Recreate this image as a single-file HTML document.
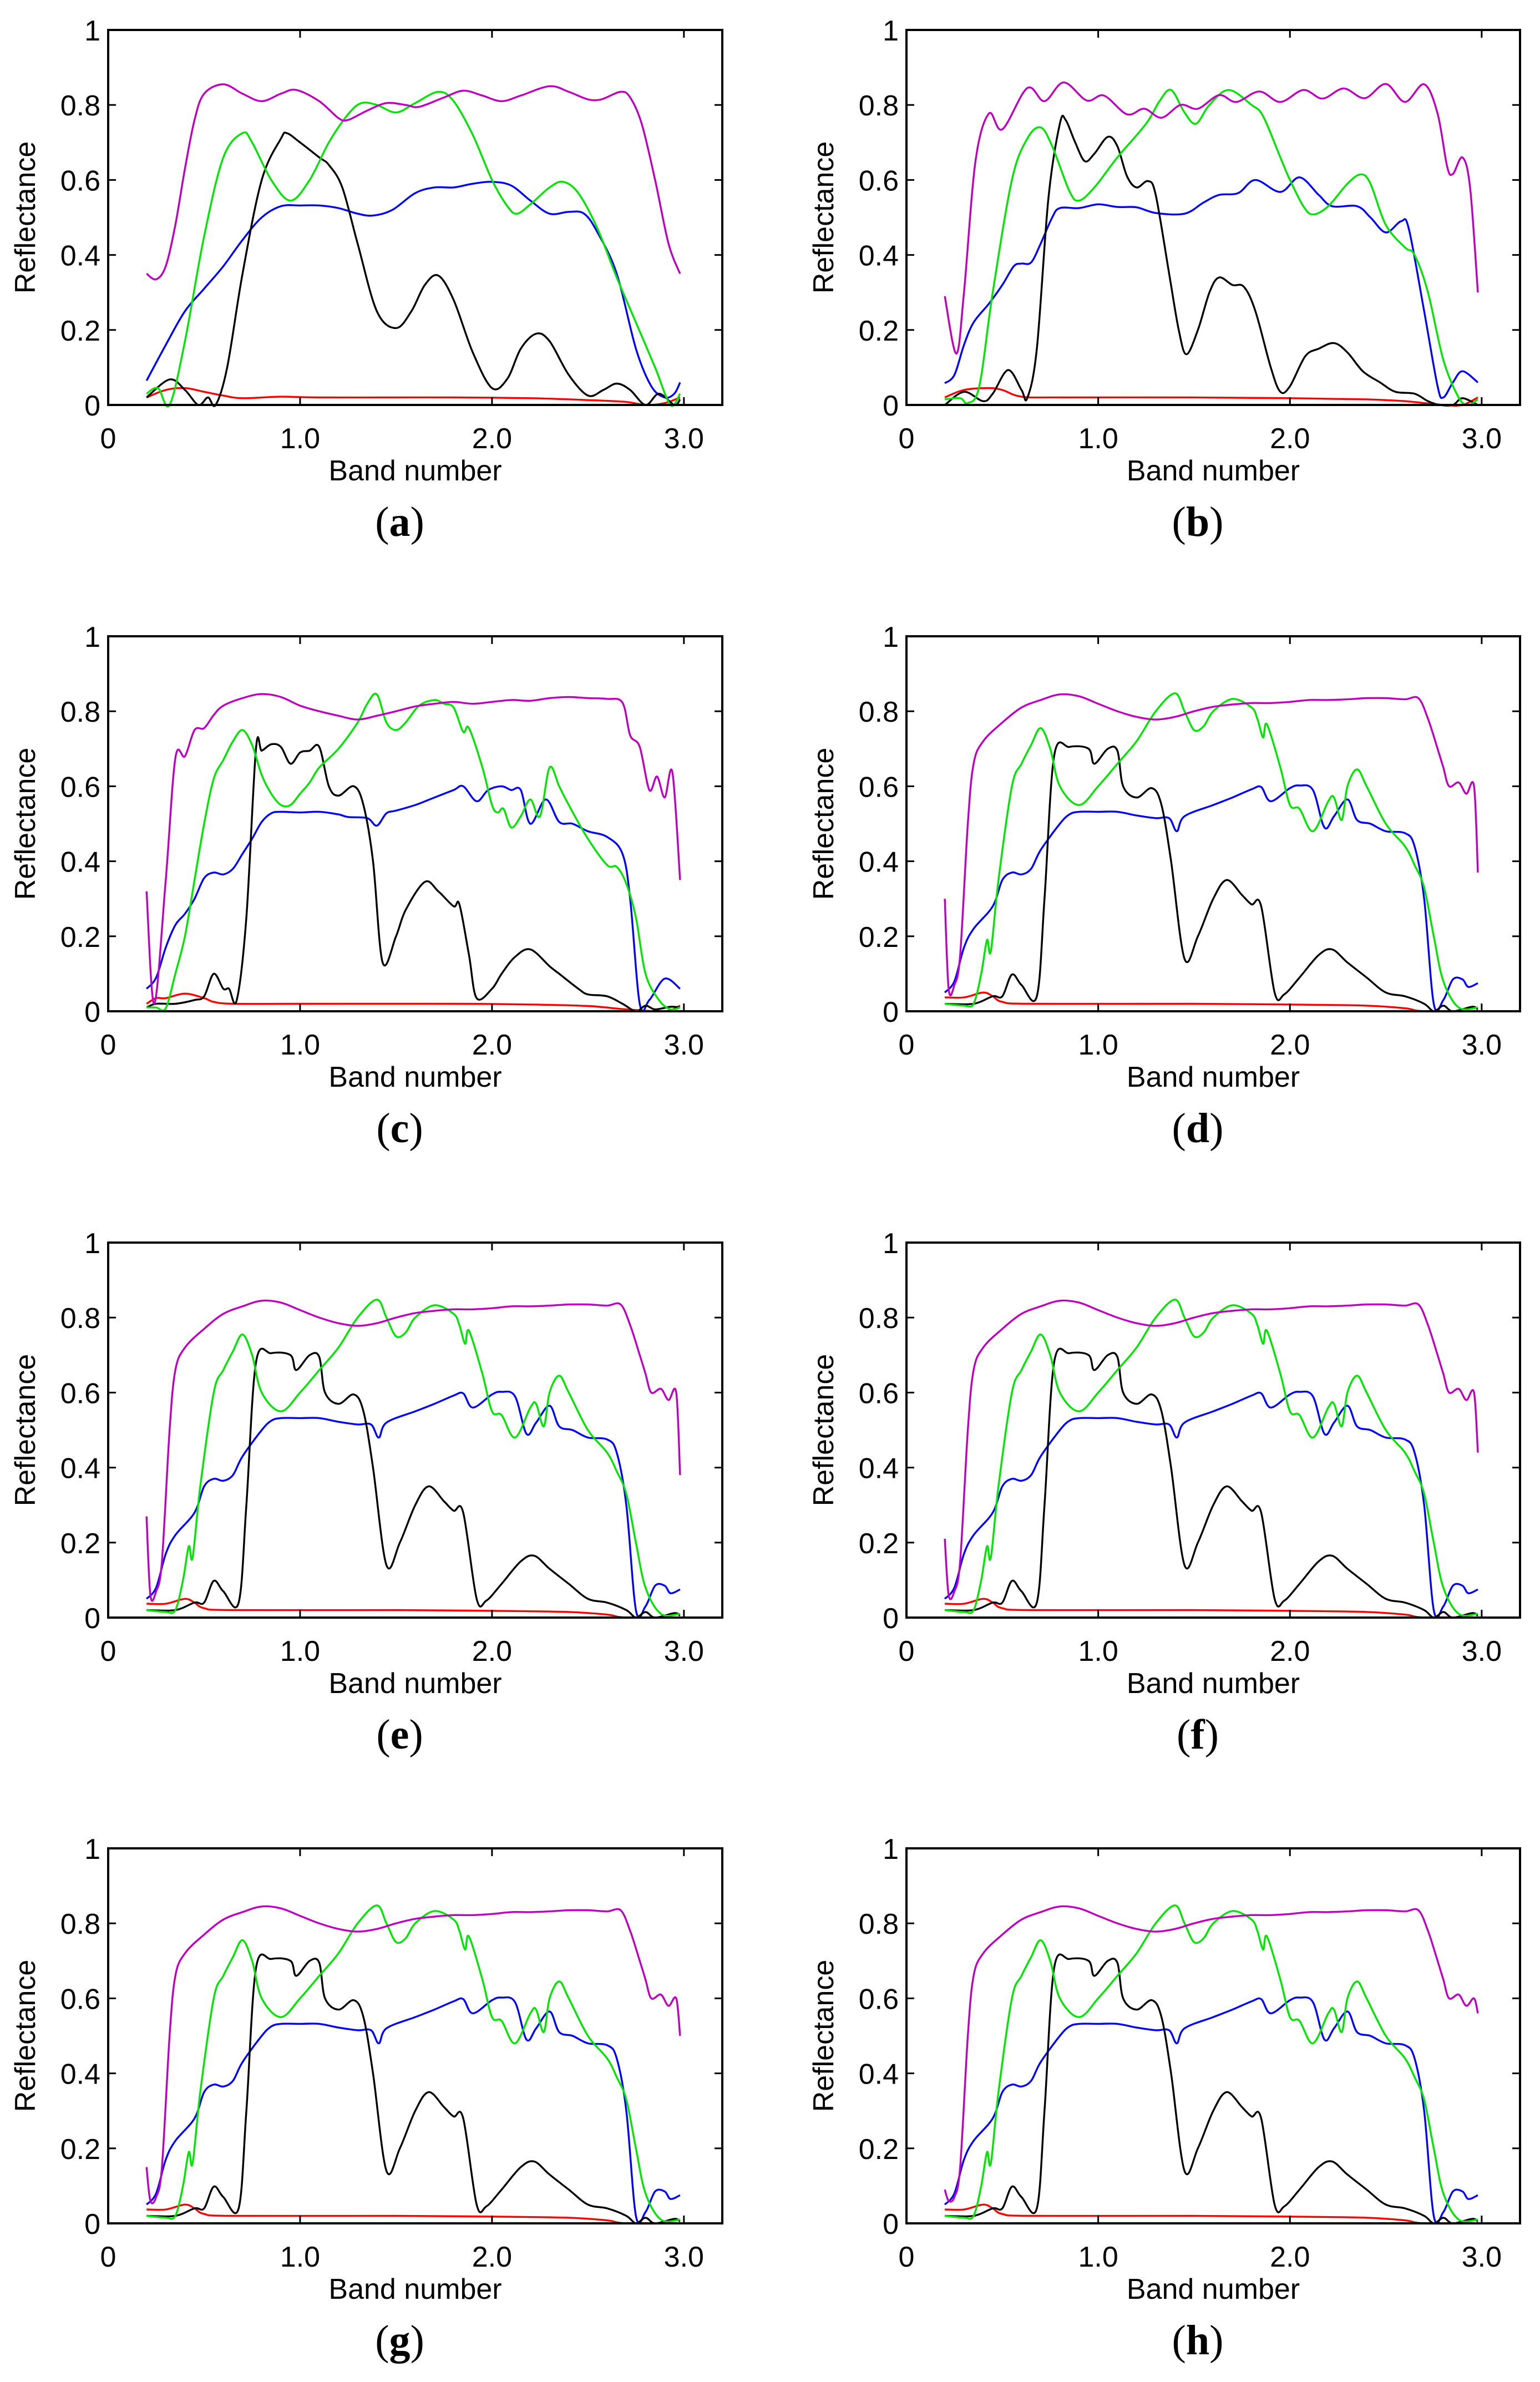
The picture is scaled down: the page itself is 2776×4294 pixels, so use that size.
<!DOCTYPE html>
<html><head><meta charset="utf-8"><style>
html,body{margin:0;padding:0;background:#fff;}
svg{display:block;}
text{font-family:"Liberation Sans",sans-serif;}
</style></head><body>
<svg id="fig" width="2776" height="4294" viewBox="0 0 2776 4294" xmlns="http://www.w3.org/2000/svg"></svg>
<script>
// ---- data: panel (a) ----
const aMagX=[0.2,0.25,0.3,0.35,0.4,0.45,0.5,0.6,0.7,0.8,0.9,0.98,1.1,1.2,1.25,1.35,1.45,1.55,1.62,1.75,1.85,1.95,2.05,2.15,2.3,2.4,2.5,2.57,2.67,2.72,2.78,2.85,2.92,2.98];
const aMagY=[0.35,0.335,0.37,0.48,0.63,0.76,0.83,0.855,0.83,0.81,0.83,0.84,0.81,0.765,0.76,0.785,0.805,0.8,0.795,0.82,0.838,0.825,0.81,0.825,0.85,0.835,0.815,0.815,0.835,0.82,0.75,0.6,0.43,0.35];
const aGrnX=[0.2,0.26,0.32,0.4,0.5,0.6,0.7,0.75,0.85,0.95,1.05,1.15,1.25,1.32,1.4,1.5,1.6,1.72,1.8,1.9,2.0,2.08,2.13,2.2,2.3,2.37,2.45,2.55,2.65,2.75,2.85,2.93,2.98];
const aGrnY=[0.03,0.045,0.0,0.17,0.45,0.66,0.725,0.7,0.6,0.545,0.6,0.7,0.775,0.805,0.8,0.78,0.805,0.835,0.81,0.72,0.6,0.53,0.51,0.535,0.58,0.595,0.565,0.47,0.34,0.22,0.1,0.0,0.03];
const aBlkX=[0.2,0.32,0.4,0.47,0.52,0.56,0.62,0.7,0.8,0.9,0.93,1.0,1.1,1.15,1.22,1.3,1.4,1.5,1.58,1.65,1.72,1.8,1.9,2.0,2.08,2.15,2.23,2.3,2.4,2.5,2.58,2.65,2.72,2.8,2.87,2.95,2.98];
const aBlkY=[0.02,0.068,0.04,0.0,0.02,0.0,0.1,0.35,0.6,0.71,0.725,0.7,0.66,0.64,0.58,0.43,0.25,0.205,0.25,0.32,0.345,0.28,0.14,0.045,0.07,0.15,0.19,0.17,0.08,0.025,0.04,0.057,0.04,0.0,0.03,0.0,0.015];
const aBluX=[0.2,0.3,0.4,0.5,0.6,0.7,0.8,0.9,1.0,1.1,1.2,1.3,1.38,1.48,1.6,1.7,1.8,1.9,2.0,2.1,2.2,2.3,2.4,2.48,2.55,2.65,2.75,2.83,2.9,2.95,2.98];
const aBluY=[0.065,0.16,0.25,0.31,0.37,0.44,0.5,0.53,0.532,0.532,0.525,0.51,0.505,0.52,0.565,0.58,0.58,0.59,0.595,0.585,0.545,0.51,0.515,0.51,0.46,0.35,0.15,0.05,0.02,0.03,0.06];
const aRedX=[0.2,0.3,0.4,0.5,0.6,0.7,0.9,1.1,1.5,1.8,2.2,2.5,2.7,2.8,2.9,2.98];
const aRedY=[0.02,0.04,0.045,0.035,0.025,0.018,0.022,0.02,0.02,0.02,0.018,0.013,0.008,0.0,0.005,0.02];
// ---- data: panel (b) ----
const bMagX=[0.2,0.26,0.3,0.36,0.43,0.5,0.63,0.72,0.82,0.94,1.03,1.15,1.24,1.33,1.43,1.52,1.63,1.72,1.84,1.95,2.07,2.17,2.28,2.39,2.5,2.6,2.7,2.77,2.82,2.85,2.9,2.94,2.98];
const bMagY=[0.29,0.137,0.3,0.65,0.777,0.735,0.845,0.81,0.86,0.812,0.825,0.775,0.79,0.766,0.8,0.79,0.826,0.808,0.836,0.808,0.84,0.817,0.844,0.818,0.856,0.808,0.855,0.777,0.635,0.616,0.66,0.578,0.3];
const bGrnX=[0.2,0.28,0.32,0.38,0.45,0.55,0.63,0.7,0.76,0.85,0.9,0.98,1.1,1.25,1.32,1.38,1.45,1.51,1.58,1.68,1.8,1.86,1.95,2.0,2.07,2.12,2.2,2.3,2.37,2.42,2.5,2.6,2.65,2.72,2.8,2.88,2.93,2.98];
const bGrnY=[0.015,0.018,0.005,0.05,0.3,0.6,0.71,0.74,0.69,0.57,0.545,0.58,0.66,0.75,0.81,0.84,0.78,0.75,0.8,0.84,0.8,0.77,0.66,0.6,0.53,0.508,0.53,0.59,0.615,0.59,0.48,0.42,0.4,0.3,0.12,0.02,0.0,0.015];
const bBlkX=[0.2,0.3,0.4,0.45,0.53,0.6,0.63,0.68,0.74,0.8,0.83,0.88,0.93,0.98,1.05,1.1,1.15,1.2,1.26,1.3,1.37,1.42,1.46,1.52,1.58,1.63,1.7,1.76,1.82,1.9,1.95,2.0,2.08,2.15,2.23,2.3,2.38,2.47,2.55,2.65,2.72,2.78,2.85,2.9,2.98];
const bBlkY=[0.0,0.035,0.01,0.03,0.093,0.04,0.018,0.15,0.55,0.75,0.76,0.7,0.65,0.67,0.715,0.69,0.61,0.58,0.597,0.56,0.35,0.2,0.135,0.2,0.3,0.34,0.32,0.315,0.25,0.1,0.035,0.05,0.13,0.15,0.165,0.14,0.09,0.06,0.035,0.03,0.01,0.0,0.0,0.018,0.0];
const bBluX=[0.2,0.25,0.3,0.35,0.43,0.5,0.56,0.6,0.65,0.7,0.76,0.8,0.9,1.0,1.1,1.2,1.3,1.45,1.55,1.63,1.73,1.82,1.95,2.05,2.15,2.22,2.35,2.42,2.5,2.58,2.62,2.7,2.77,2.8,2.85,2.9,2.98];
const bBluY=[0.058,0.08,0.16,0.22,0.27,0.32,0.37,0.377,0.38,0.43,0.5,0.525,0.525,0.535,0.528,0.527,0.512,0.51,0.54,0.56,0.565,0.6,0.568,0.607,0.56,0.53,0.53,0.5,0.46,0.49,0.47,0.25,0.05,0.02,0.06,0.09,0.06];
const bRedX=[0.2,0.3,0.43,0.5,0.6,0.8,1.5,2.0,2.4,2.6,2.8,2.9,2.98];
const bRedY=[0.02,0.04,0.045,0.04,0.022,0.02,0.02,0.018,0.015,0.01,0.0,0.0,0.02];
// ---- data: panel (c) ----
const cMagX=[0.2,0.24,0.3,0.35,0.4,0.45,0.5,0.55,0.6,0.7,0.8,0.9,1.0,1.1,1.2,1.3,1.4,1.5,1.6,1.7,1.8,1.9,2.0,2.1,2.2,2.3,2.4,2.5,2.6,2.68,2.72,2.77,2.82,2.86,2.9,2.94,2.98];
const cMagY=[0.32,0.02,0.35,0.675,0.68,0.75,0.755,0.79,0.815,0.835,0.846,0.838,0.815,0.8,0.788,0.778,0.788,0.8,0.813,0.82,0.825,0.82,0.825,0.83,0.828,0.835,0.838,0.835,0.833,0.823,0.736,0.705,0.59,0.626,0.57,0.637,0.35];
const cGrnX=[0.2,0.25,0.3,0.35,0.4,0.45,0.5,0.55,0.6,0.65,0.7,0.75,0.8,0.85,0.9,0.95,1.0,1.05,1.1,1.2,1.3,1.35,1.4,1.45,1.5,1.55,1.62,1.7,1.75,1.8,1.85,1.88,1.95,2.0,2.03,2.06,2.1,2.15,2.2,2.25,2.3,2.35,2.4,2.5,2.6,2.65,2.7,2.75,2.8,2.87,2.93,2.98];
const cGrnY=[0.01,0.01,0.008,0.1,0.2,0.35,0.5,0.62,0.67,0.72,0.75,0.71,0.63,0.58,0.55,0.55,0.58,0.61,0.65,0.7,0.77,0.82,0.845,0.77,0.75,0.77,0.815,0.83,0.82,0.81,0.745,0.755,0.65,0.55,0.53,0.54,0.49,0.52,0.565,0.52,0.65,0.6,0.55,0.46,0.39,0.385,0.34,0.25,0.1,0.03,0.005,0.01];
const cBlkX=[0.2,0.25,0.35,0.45,0.5,0.55,0.6,0.63,0.67,0.72,0.77,0.8,0.85,0.9,0.95,1.0,1.05,1.1,1.15,1.2,1.28,1.33,1.38,1.43,1.5,1.55,1.65,1.72,1.8,1.83,1.88,1.92,2.0,2.05,2.12,2.2,2.3,2.35,2.45,2.5,2.6,2.68,2.75,2.8,2.85,2.93,2.98];
const cBlkY=[0.01,0.02,0.02,0.03,0.04,0.1,0.06,0.06,0.03,0.25,0.7,0.695,0.712,0.705,0.66,0.69,0.695,0.705,0.6,0.575,0.6,0.55,0.4,0.13,0.2,0.27,0.345,0.32,0.28,0.285,0.15,0.035,0.06,0.1,0.145,0.165,0.12,0.1,0.06,0.045,0.04,0.02,0.0,0.015,0.005,0.012,0.01];
const cBluX=[0.2,0.25,0.3,0.35,0.4,0.45,0.5,0.55,0.6,0.65,0.7,0.75,0.8,0.85,0.9,1.0,1.1,1.2,1.25,1.35,1.4,1.45,1.5,1.6,1.7,1.8,1.85,1.92,1.98,2.05,2.1,2.15,2.2,2.28,2.35,2.42,2.5,2.6,2.68,2.72,2.77,2.82,2.9,2.98];
const cBluY=[0.06,0.09,0.17,0.23,0.26,0.3,0.355,0.37,0.365,0.38,0.42,0.46,0.505,0.528,0.532,0.53,0.532,0.525,0.518,0.515,0.495,0.528,0.535,0.55,0.57,0.59,0.6,0.56,0.59,0.6,0.59,0.59,0.5,0.565,0.505,0.5,0.48,0.465,0.42,0.3,0.02,0.03,0.087,0.06];
const cRedX=[0.2,0.25,0.3,0.4,0.5,0.55,0.65,1.0,1.8,2.2,2.5,2.7,2.9,2.98];
const cRedY=[0.02,0.035,0.035,0.047,0.035,0.025,0.02,0.02,0.02,0.018,0.014,0.005,0.0,0.015];
// ---- data: panels (d)-(h) ----
const dMagX=[0.2,0.22,0.25,0.28,0.32,0.35,0.4,0.5,0.6,0.7,0.8,0.9,1.0,1.1,1.2,1.3,1.4,1.5,1.6,1.7,1.8,1.9,2.0,2.1,2.2,2.3,2.4,2.5,2.6,2.67,2.72,2.77,2.8,2.83,2.88,2.92,2.96,2.98];
const dMagY=[0.15,0.06,0.07,0.15,0.5,0.66,0.72,0.77,0.81,0.83,0.845,0.84,0.82,0.8,0.785,0.778,0.785,0.8,0.812,0.818,0.822,0.822,0.825,0.83,0.83,0.832,0.835,0.835,0.832,0.835,0.78,0.7,0.65,0.6,0.61,0.58,0.6,0.55];
const dGrnX=[0.2,0.3,0.35,0.39,0.42,0.44,0.48,0.55,0.6,0.65,0.7,0.75,0.8,0.9,1.0,1.1,1.2,1.3,1.4,1.45,1.5,1.55,1.6,1.7,1.8,1.83,1.86,1.88,1.95,2.0,2.05,2.12,2.2,2.23,2.27,2.3,2.35,2.4,2.5,2.6,2.65,2.7,2.75,2.8,2.88,2.98];
const dGrnY=[0.02,0.015,0.02,0.1,0.19,0.16,0.35,0.6,0.66,0.71,0.755,0.7,0.6,0.55,0.6,0.66,0.72,0.8,0.848,0.8,0.75,0.76,0.8,0.833,0.81,0.78,0.73,0.765,0.65,0.55,0.54,0.48,0.56,0.57,0.51,0.6,0.645,0.6,0.5,0.44,0.39,0.33,0.2,0.08,0.01,0.01];
const dBlkX=[0.2,0.35,0.45,0.5,0.55,0.6,0.68,0.72,0.77,0.85,0.95,0.98,1.05,1.1,1.13,1.2,1.28,1.33,1.38,1.45,1.52,1.6,1.67,1.75,1.8,1.85,1.92,1.97,2.05,2.15,2.22,2.3,2.4,2.5,2.6,2.7,2.75,2.8,2.85,2.95,2.98];
const dBlkY=[0.02,0.02,0.04,0.04,0.098,0.07,0.04,0.3,0.68,0.705,0.7,0.66,0.7,0.695,0.6,0.57,0.595,0.55,0.4,0.14,0.2,0.3,0.35,0.31,0.285,0.28,0.05,0.045,0.09,0.15,0.165,0.13,0.09,0.05,0.04,0.02,0.0,0.015,0.0,0.012,0.005];
const dBluX=[0.2,0.25,0.3,0.35,0.45,0.5,0.55,0.6,0.65,0.7,0.8,0.85,0.9,1.0,1.1,1.2,1.3,1.37,1.41,1.45,1.6,1.7,1.8,1.85,1.9,2.0,2.05,2.12,2.18,2.23,2.3,2.35,2.42,2.5,2.6,2.65,2.7,2.75,2.8,2.85,2.9,2.93,2.98];
const dBluY=[0.05,0.08,0.17,0.22,0.28,0.35,0.37,0.365,0.38,0.43,0.5,0.525,0.532,0.532,0.532,0.522,0.515,0.515,0.48,0.52,0.55,0.57,0.592,0.598,0.56,0.595,0.602,0.59,0.49,0.52,0.565,0.51,0.5,0.48,0.475,0.44,0.3,0.02,0.03,0.085,0.085,0.065,0.075];
const dRedX=[0.2,0.3,0.4,0.45,0.5,0.65,1.5,2.0,2.4,2.6,2.7,2.98];
const dRedY=[0.037,0.037,0.05,0.04,0.025,0.02,0.02,0.018,0.015,0.008,0.0,0.0];
const magStartByPanel=[0.30,0.27,0.21,0.15,0.09];
const magEndByPanel=[0.37,0.38,0.44,0.50,0.56];
const panelLetters=["a","b","c","d","e","f","g","h"];
const xTickVals=[0,1,2,3];
const xTickLabels=["0","1.0","2.0","3.0"];
const yTickVals=[0,0.2,0.4,0.6,0.8,1];
const yTickLabels=["0","0.2","0.4","0.6","0.8","1"];

const NS="http://www.w3.org/2000/svg";
const svg=document.getElementById('fig');
function mk(tag,attrs,parent){const e=document.createElementNS(NS,tag);for(const k in attrs)e.setAttribute(k,attrs[k]);(parent||svg).appendChild(e);return e;}
function smoothPath(xs,ys,sx,sy){
  const p=xs.map((x,i)=>[sx(x),sy(ys[i])]);
  let d="M"+p[0][0].toFixed(1)+","+p[0][1].toFixed(1);
  for(let i=0;i<p.length-1;i++){
    const p0=p[Math.max(0,i-1)],p1=p[i],p2=p[i+1],p3=p[Math.min(p.length-1,i+2)];
    const c1=[p1[0]+(p2[0]-p0[0])/6,p1[1]+(p2[1]-p0[1])/6];
    const c2=[p2[0]-(p3[0]-p1[0])/6,p2[1]-(p3[1]-p1[1])/6];
    d+=" C"+c1[0].toFixed(1)+","+c1[1].toFixed(1)+" "+c2[0].toFixed(1)+","+c2[1].toFixed(1)+" "+p2[0].toFixed(1)+","+p2[1].toFixed(1);
  }
  return d;
}
const colLeft=[195,1634], colWidth=[1107,1106];
const rowTop=[54,1147,2240,3332], boxH=676;
for(let p=0;p<8;p++){
  const col=p%2,row=Math.floor(p/2);
  const L=colLeft[col],W=colWidth[col],T=rowTop[row],B=T+boxH;
  const sx=v=>L+v/3.2*W, sy=v=>B-v*boxH;
  const g=mk('g',{});
  
  
  let sets;
  if(p===0) sets=[[aRedX,aRedY,'#ff0000'],[aBluX,aBluY,'#0000ff'],[aBlkX,aBlkY,'#000000'],[aGrnX,aGrnY,'#00e600'],[aMagX,aMagY,'#c000c0']];
  else if(p===1) sets=[[bRedX,bRedY,'#ff0000'],[bBluX,bBluY,'#0000ff'],[bBlkX,bBlkY,'#000000'],[bGrnX,bGrnY,'#00e600'],[bMagX,bMagY,'#c000c0']];
  else if(p===2) sets=[[cRedX,cRedY,'#ff0000'],[cBluX,cBluY,'#0000ff'],[cBlkX,cBlkY,'#000000'],[cGrnX,cGrnY,'#00e600'],[cMagX,cMagY,'#c000c0']];
  else {
    const my=dMagY.slice();my[0]=magStartByPanel[p-3];my[my.length-1]=magEndByPanel[p-3];
    sets=[[dRedX,dRedY,'#ff0000'],[dBluX,dBluY,'#0000ff'],[dBlkX,dBlkY,'#000000'],[dGrnX,dGrnY,'#00e600'],[dMagX,my,'#c000c0']];
  }
  const names=['red-series','blue-series','black-series','green-series','magenta-series'];
  sets.forEach((s,i)=>{
    const path=mk('path',{d:smoothPath(s[0],s[1],sx,sy),fill:'none',stroke:s[2],'stroke-width':3.4,'stroke-linejoin':'round'},g);
    
    
  });
  const box=mk('rect',{x:L,y:T,width:W,height:boxH,fill:'none',stroke:'#000','stroke-width':4},g);
  
  
  xTickVals.forEach((v,i)=>{
    const x=sx(v);
    mk('line',{x1:x,y1:B,x2:x,y2:B-14,stroke:'#000','stroke-width':3},g);
    mk('line',{x1:x,y1:T,x2:x,y2:T+14,stroke:'#000','stroke-width':3},g);
    const t=mk('text',{x:x,y:B+78,'font-size':52,'text-anchor':'middle'},g);t.textContent=xTickLabels[i];
    
    
  });
  yTickVals.forEach((v,i)=>{
    const y=sy(v);
    mk('line',{x1:L,y1:y,x2:L+14,y2:y,stroke:'#000','stroke-width':3},g);
    mk('line',{x1:L+W,y1:y,x2:L+W-14,y2:y,stroke:'#000','stroke-width':3},g);
    const t=mk('text',{x:L-14,y:y+19,'font-size':52,'text-anchor':'end'},g);t.textContent=yTickLabels[i];
    
    
  });
  const xl=mk('text',{x:L+W/2,y:B+136,'font-size':52,'text-anchor':'middle'},g);xl.textContent='Band number';
  
  
  const yl=mk('text',{x:0,y:0,'font-size':52,'text-anchor':'middle',transform:'translate('+(L-132)+','+(T+boxH/2)+') rotate(-90)'},g);yl.textContent='Reflectance';
  
  
  const cap=mk('text',{x:L+W/2-28,y:B+236,'font-size':76,'text-anchor':'middle',style:'font-family:"Liberation Serif",serif'},g);
  cap.innerHTML='(<tspan font-weight="bold">'+panelLetters[p]+'</tspan>)';
  
  
}
</script>
</body></html>
